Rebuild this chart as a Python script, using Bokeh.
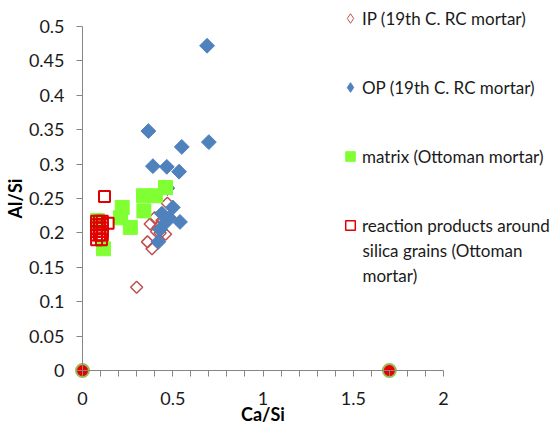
import numpy as np
from bokeh.plotting import figure
from bokeh.models import Range1d, FixedTicker, Legend, LegendItem, NumeralTickFormatter, Label
from bokeh.embed import file_html
from bokeh.resources import INLINE

# ---- data ----
ip_x = [0.30, 0.36, 0.385, 0.41, 0.43, 0.46, 0.47, 0.40, 0.375, 0.42, 0.44]
ip_y = [0.121, 0.187, 0.177, 0.202, 0.200, 0.198, 0.243, 0.222, 0.213, 0.208, 0.218]

op_x = [0.69, 0.365, 0.70, 0.55, 0.39, 0.467, 0.535, 0.47, 0.50, 0.44, 0.46, 0.54, 0.42, 0.43, 0.48]
op_y = [0.472, 0.348, 0.332, 0.325, 0.297, 0.296, 0.289, 0.265, 0.237, 0.228, 0.215, 0.216, 0.187, 0.205, 0.222]

matrix_x = [0.46, 0.338, 0.404, 0.34, 0.22, 0.21, 0.265, 0.116, 0.083]
matrix_y = [0.266, 0.254, 0.254, 0.232, 0.237, 0.222, 0.208, 0.177, 0.218]

rp_x = [0.122, 0.142,
        0.078, 0.094, 0.11, 0.078, 0.094, 0.11, 0.078, 0.094, 0.11,
        0.078, 0.094, 0.11, 0.078, 0.094, 0.11, 0.078, 0.105]
rp_y = [0.253, 0.214,
        0.217, 0.217, 0.217, 0.212, 0.212, 0.212, 0.207, 0.207, 0.207,
        0.202, 0.202, 0.202, 0.197, 0.197, 0.197, 0.19, 0.19]

zero_x = [0.0, 1.7]
zero_y = [0.0, 0.0]

legend_labels = ["IP (19th C. RC mortar)",
                 "OP (19th C. RC mortar)",
                 "matrix (Ottoman mortar)",
                 "reaction products around"]
legend_extra_lines = ["silica grains (Ottoman", "mortar)"]

x_ticks = [0, 0.5, 1, 1.5, 2]
x_minor = [0.1, 0.2, 0.3, 0.4, 0.6, 0.7, 0.8, 0.9, 1.1, 1.2, 1.3, 1.4, 1.6, 1.7, 1.8, 1.9]
y_ticks = [0, 0.05, 0.1, 0.15, 0.2, 0.25, 0.3, 0.35, 0.4, 0.45, 0.5]

FONT = "Lato"
AXIS_COLOR = "#868686"
TEXT_COLOR = "#1a1a1a"
IP_COLOR = "#C0504D"
OP_COLOR = "#4F81BD"
MX_COLOR = "#80FF33"
RP_COLOR = "#E00000"
LEGEND_SIZE = "17px"

# frame covers the whole canvas; axes sit at data 0 inside it
p = figure(width=558, height=425, output_backend="svg", toolbar_location=None,
           x_range=Range1d(-0.4543, 2.637), y_range=Range1d(-0.0799, 0.5378),
           min_border=0, min_border_left=0, min_border_right=0,
           min_border_top=0, min_border_bottom=0)
p.outline_line_color = None
p.xgrid.visible = False
p.ygrid.visible = False
p.background_fill_color = "white"
p.border_fill_color = "white"

r_ip = p.scatter(ip_x, ip_y, marker="square", size=8.5, angle=np.pi / 4,
                 fill_color=None, line_color=IP_COLOR, line_width=1.5)
r_op = p.scatter(op_x, op_y, marker="square", size=10.5, angle=np.pi / 4,
                 fill_color=OP_COLOR, line_color=OP_COLOR, line_width=1)
r_mx = p.scatter(matrix_x, matrix_y, marker="square", size=14,
                 fill_color=MX_COLOR, line_color=MX_COLOR, line_width=1)
r_rp = p.scatter(rp_x, rp_y, marker="square", size=11,
                 fill_color=None, line_color=RP_COLOR, line_width=2)
r_z = p.scatter(zero_x, zero_y, marker="circle", size=13,
                fill_color="#E60000", line_color="#9BBB59", line_width=2)

# legend-only glyphs (no visible points) so the legend shows diamonds
nan = [float("nan")]
g_ip = p.scatter(nan, nan, marker="diamond", size=13, fill_color=None,
                 line_color=IP_COLOR, line_width=1)
g_op = p.scatter(nan, nan, marker="diamond", size=13, fill_color=OP_COLOR,
                 line_color=OP_COLOR, line_width=1)
g_mx = p.scatter(nan, nan, marker="square", size=12, fill_color=MX_COLOR,
                 line_color=MX_COLOR, line_width=1)
g_rp = p.scatter(nan, nan, marker="square", size=11, fill_color=None,
                 line_color=RP_COLOR, line_width=1.5)

for ax in (p.xaxis[0], p.yaxis[0]):
    ax.fixed_location = 0
    ax.axis_line_color = AXIS_COLOR
    ax.major_tick_line_color = AXIS_COLOR
    ax.minor_tick_line_color = AXIS_COLOR
    ax.major_tick_in = 0
    ax.major_tick_out = 6
    ax.minor_tick_in = 0
    ax.minor_tick_out = 6
    ax.major_label_text_font = FONT
    ax.major_label_text_font_size = "18px"
    ax.major_label_text_color = TEXT_COLOR
    ax.axis_label_text_font = FONT
    ax.axis_label_text_font_size = "18px"
    ax.axis_label_text_font_style = "bold"
    ax.axis_label_text_color = "black"

p.xaxis[0].bounds = (0, 2)
p.yaxis[0].bounds = (0, 0.5)
p.xaxis[0].ticker = FixedTicker(ticks=x_ticks, minor_ticks=x_minor)
p.yaxis[0].ticker = FixedTicker(ticks=y_ticks, minor_ticks=[])
p.xaxis[0].formatter = NumeralTickFormatter(format="0.[0]")
p.yaxis[0].formatter = NumeralTickFormatter(format="0.[00]")
p.xaxis[0].axis_label = "Ca/Si"
p.yaxis[0].axis_label = "Al/Si"
p.xaxis[0].major_label_standoff = 15
p.xaxis[0].axis_label_standoff = -5
p.yaxis[0].major_label_standoff = 12
p.yaxis[0].axis_label_standoff = 0

legend = Legend(items=[LegendItem(label=legend_labels[0], renderers=[g_ip]),
                       LegendItem(label=legend_labels[1], renderers=[g_op]),
                       LegendItem(label=legend_labels[2], renderers=[g_mx]),
                       LegendItem(label=legend_labels[3], renderers=[g_rp])],
                location=(338, 185), orientation="vertical", padding=0, margin=0,
                spacing=39, glyph_width=24, glyph_height=30, label_standoff=0,
                border_line_color=None, background_fill_alpha=0,
                label_text_font=FONT, label_text_font_size=LEGEND_SIZE,
                label_text_color=TEXT_COLOR, label_text_baseline="middle")
p.add_layout(legend)

for txt, yv in zip(legend_extra_lines, [0.1744, 0.1381]):
    p.add_layout(Label(x=1.551, y=yv, text=txt, text_font=FONT, text_font_size=LEGEND_SIZE,
                       text_color=TEXT_COLOR, text_align="left", text_baseline="middle"))

open("out.html", "w").write(file_html(p, INLINE))
